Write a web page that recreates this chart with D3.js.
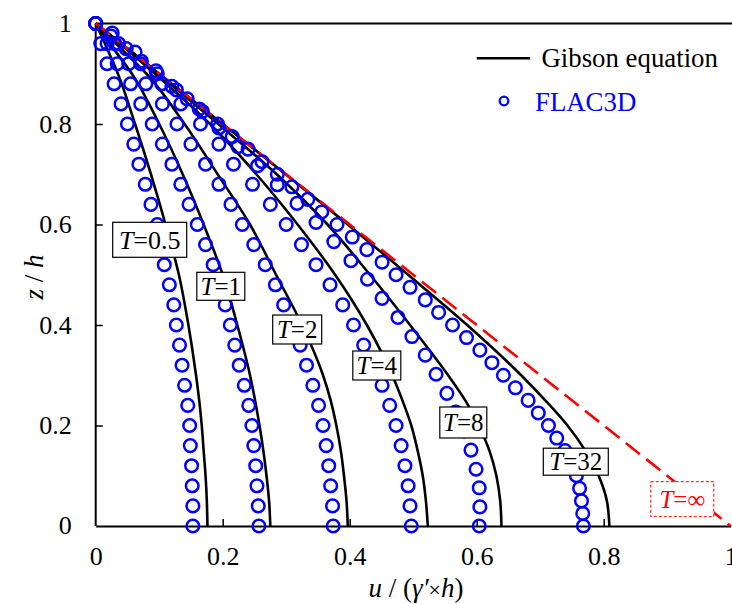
<!DOCTYPE html>
<html>
<head>
<meta charset="utf-8">
<script src="https://cdn.jsdelivr.net/npm/d3@7"></script>
<style>
  html, body { margin: 0; padding: 0; background: #fff; }
  svg { display: block; }
  svg text { font-family: "Liberation Serif", "Times New Roman", serif !important; }
</style>
</head>
<body>
<div id="chart"></div>
<script>
// ---------------- DATA ----------------
const uTickValues = [0, 0.2, 0.4, 0.6, 0.8, 1];
const uTickLabels = ["0", "0.2", "0.4", "0.6", "0.8", "1"];
const zTickValues = [0, 0.2, 0.4, 0.6, 0.8, 1];
const zTickLabels = ["0", "0.2", "0.4", "0.6", "0.8", "1"];

const seriesNames = ["T=0.5", "T=1", "T=2", "T=4", "T=8", "T=32"];

// Gibson equation curves (z/h sample levels, u values per T)
const gibsonZ = [1, 0.95, 0.9, 0.8, 0.7, 0.6, 0.5, 0.4, 0.3, 0.25, 0.2, 0.15, 0.1, 0.05, 0];
const gibsonT05 = [0, 0.018, 0.035, 0.062, 0.087, 0.110, 0.131, 0.146, 0.158, 0.163, 0.167, 0.170, 0.173, 0.175, 0.176];
const gibsonT1  = [0, 0.028, 0.057, 0.100, 0.137, 0.170, 0.200, 0.223, 0.243, 0.251, 0.258, 0.264, 0.269, 0.273, 0.275];
const gibsonT2  = [0, 0.040, 0.080, 0.140, 0.192, 0.243, 0.284, 0.325, 0.358, 0.370, 0.379, 0.386, 0.391, 0.395, 0.397];
const gibsonT4  = [0, 0.047, 0.093, 0.180, 0.253, 0.318, 0.377, 0.427, 0.467, 0.483, 0.497, 0.507, 0.515, 0.520, 0.523];
const gibsonT8  = [0, 0.050, 0.098, 0.193, 0.285, 0.365, 0.432, 0.495, 0.555, 0.582, 0.603, 0.620, 0.631, 0.637, 0.639];
const gibsonT32 = [0, 0.050, 0.100, 0.200, 0.299, 0.397, 0.492, 0.585, 0.670, 0.708, 0.743, 0.771, 0.792, 0.805, 0.809];

// T = infinity line
const infZ = [1, 0];
const infU = [0, 1];

// FLAC3D results
const flacZ04 = [0, 0.04, 0.08, 0.12, 0.16, 0.20, 0.24, 0.28, 0.32, 0.36, 0.40, 0.44, 0.48, 0.52, 0.56, 0.60, 0.64, 0.68, 0.72, 0.76, 0.80, 0.84, 0.88, 0.92, 0.96, 1.0];
const flacT05 = [0.153, 0.153, 0.152, 0.151, 0.149, 0.148, 0.145, 0.140, 0.136, 0.132, 0.127, 0.123, 0.116, 0.108, 0.103, 0.097, 0.087, 0.078, 0.068, 0.060, 0.050, 0.040, 0.029, 0.018, 0.008, 0];
const flacT1  = [0.257, 0.256, 0.254, 0.252, 0.249, 0.246, 0.241, 0.234, 0.226, 0.219, 0.212, 0.204, 0.195, 0.185, 0.173, 0.160, 0.147, 0.134, 0.120, 0.105, 0.089, 0.071, 0.055, 0.034, 0.018, 0];
const flacT2  = [0.374, 0.373, 0.370, 0.367, 0.363, 0.358, 0.351, 0.342, 0.332, 0.322, 0.310, 0.296, 0.283, 0.267, 0.249, 0.231, 0.213, 0.194, 0.173, 0.150, 0.128, 0.105, 0.079, 0.052, 0.030, 0];
const flacT4  = [0.497, 0.495, 0.492, 0.487, 0.481, 0.473, 0.463, 0.451, 0.437, 0.422, 0.406, 0.389, 0.369, 0.347, 0.324, 0.300, 0.275, 0.247, 0.217, 0.194, 0.165, 0.134, 0.104, 0.071, 0.036, 0];
const flacZ8  = [0, 0.038, 0.076, 0.113, 0.151, 0.189, 0.227, 0.264, 0.302, 0.340, 0.377, 0.415, 0.453, 0.491, 0.528, 0.566, 0.604, 0.642, 0.679, 0.717, 0.755, 0.792, 0.830, 0.868, 0.906, 0.943, 0.981, 1.0];
const flacT8  = [0.604, 0.605, 0.604, 0.599, 0.591, 0.580, 0.567, 0.553, 0.536, 0.519, 0.498, 0.476, 0.451, 0.428, 0.402, 0.375, 0.347, 0.317, 0.286, 0.255, 0.224, 0.194, 0.163, 0.127, 0.095, 0.062, 0.026, 0];
const flacZ32 = [0, 0.025, 0.05, 0.075, 0.1, 0.125, 0.15, 0.175, 0.2, 0.225, 0.25, 0.275, 0.3, 0.325, 0.35, 0.375, 0.4, 0.425, 0.45, 0.475, 0.5, 0.525, 0.55, 0.575, 0.6, 0.625, 0.65, 0.675, 0.7, 0.725, 0.75, 0.775, 0.8, 0.825, 0.85, 0.875, 0.9, 0.925, 0.95, 0.975, 1.0];
const flacT32 = [0.768, 0.767, 0.765, 0.762, 0.757, 0.750, 0.739, 0.726, 0.713, 0.697, 0.681, 0.661, 0.642, 0.624, 0.605, 0.584, 0.562, 0.540, 0.519, 0.495, 0.473, 0.451, 0.427, 0.404, 0.380, 0.356, 0.334, 0.309, 0.286, 0.262, 0.240, 0.215, 0.192, 0.168, 0.144, 0.120, 0.097, 0.072, 0.048, 0.024, 0];

// Label texts
const labelValues = ["0.5", "1", "2", "4", "8", "32"];
const infLabelValue = "\u221E";
const legendLabels = ["Gibson equation", "FLAC3D"];

// ---------------- LAYOUT ----------------
const W = 732, H = 604;
const SERIF = "'Liberation Serif', 'Times New Roman', serif";
const layout = {
  x0: 95.7, x1: 730.7, y0: 526, y1: 23.5,
  labelBoxes: [
    { cx: 149.7, cy: 239.8, w: 74, h: 35, fs: 26 },
    { cx: 220.8, cy: 286.3, w: 48, h: 28, fs: 25 },
    { cx: 297.2, cy: 329.5, w: 49, h: 29, fs: 25 },
    { cx: 376.8, cy: 365.5, w: 48, h: 29, fs: 25 },
    { cx: 463.3, cy: 422.5, w: 47, h: 31, fs: 25 },
    { cx: 575.8, cy: 461.7, w: 65, h: 27, fs: 25 }
  ],
  infBox: { cx: 682.3, cy: 499.2, w: 63, h: 35, fs: 25 }
};

const svg = d3.select("#chart").append("svg")
  .attr("width", W).attr("height", H)
  .style("font-family", SERIF);

const x = d3.scaleLinear().domain([0, 1]).range([layout.x0, layout.x1]);
const y = d3.scaleLinear().domain([0, 1]).range([layout.y0, layout.y1]);

// top border line
svg.append("line")
  .attr("x1", x(0)).attr("x2", W).attr("y1", y(1)).attr("y2", y(1))
  .attr("stroke", "#000").attr("stroke-width", 2);

// axes
const xAxis = d3.axisBottom(x).tickValues(uTickValues)
  .tickFormat((d, i) => uTickLabels[i]).tickSizeInner(-7).tickSizeOuter(0).tickPadding(21);
const yAxis = d3.axisLeft(y).tickValues(zTickValues.filter(v => v > 0 && v < 1))
  .tickFormat(d => zTickLabels[zTickValues.indexOf(d)]).tickSizeInner(-7).tickSizeOuter(0).tickPadding(24);

const gx = svg.append("g").attr("transform", `translate(0,${y(0)})`).call(xAxis);
const gy = svg.append("g").attr("transform", `translate(${x(0)},0)`).call(yAxis);
[gx, gy].forEach(g => {
  g.attr("font-family", null).attr("font-size", null).style("font-family", SERIF);
  g.select(".domain").attr("stroke", "#000").attr("stroke-width", 2);
  g.selectAll(".tick line").attr("stroke", "#000").attr("stroke-width", 1.5);
  g.selectAll(".tick text").style("font-family", SERIF).style("font-size", "26px")
    .attr("fill", "#000");
});
gx.selectAll(".tick line").filter(d => d === 0 || d === 1).remove();
gy.selectAll(".endlabel").data([0, 1]).enter().append("text")
  .attr("x", -24).attr("y", d => y(d)).attr("dy", "0.32em")
  .attr("text-anchor", "end").style("font-size", "26px").attr("fill", "#000")
  .style("font-family", SERIF)
  .text(d => zTickLabels[zTickValues.indexOf(d)]);
gy.select(".domain").attr("d", `M0,${y(0)}V${y(1)}`);

// Gibson curves
const gibsonSeries = [gibsonT05, gibsonT1, gibsonT2, gibsonT4, gibsonT8, gibsonT32];
const line = d3.line().x(d => x(d[0])).y(d => y(d[1])).curve(d3.curveMonotoneY);
svg.append("g").selectAll("path").data(gibsonSeries).enter().append("path")
  .attr("d", s => line(s.map((u, i) => [u, gibsonZ[i]])))
  .attr("fill", "none").attr("stroke", "#000").attr("stroke-width", 2.6);

// T = infinity line
svg.append("path")
  .attr("d", d3.line().x(d => x(d[0])).y(d => y(d[1]))(infU.map((u, i) => [u, infZ[i]])))
  .attr("fill", "none").attr("stroke", "#ff0000").attr("stroke-width", 2.6)
  .attr("stroke-dasharray", "18,8");

// FLAC3D circles
const flacSeries = [
  { u: flacT05, z: flacZ04 }, { u: flacT1, z: flacZ04 }, { u: flacT2, z: flacZ04 },
  { u: flacT4, z: flacZ04 }, { u: flacT8, z: flacZ8 }, { u: flacT32, z: flacZ32 }
];
const gc = svg.append("g");
flacSeries.forEach(s => {
  gc.append("g").selectAll("circle").data(s.u.map((u, i) => [u, s.z[i]])).enter()
    .append("circle")
    .attr("cx", d => x(d[0])).attr("cy", d => y(d[1])).attr("r", 6.3)
    .attr("fill", "none").attr("stroke", "#0000ff").attr("stroke-width", 2.5);
});

// T labels
const gl = svg.append("g");
function addLabel(b, v, color, boxStroke, dash) {
  gl.append("rect")
    .attr("x", b.cx - b.w / 2).attr("y", b.cy - b.h / 2).attr("width", b.w).attr("height", b.h)
    .attr("fill", "#fff").attr("stroke", boxStroke).attr("stroke-width", dash ? 1 : 1.2)
    .attr("stroke-dasharray", dash);
  const t = gl.append("text").attr("x", b.cx).attr("y", b.cy).attr("dy", "0.34em")
    .attr("text-anchor", "middle").style("font-size", b.fs + "px").attr("fill", color)
    .style("font-family", SERIF);
  t.append("tspan").attr("font-style", "italic").text("T");
  t.append("tspan").text("=" + v);
}
labelValues.forEach((v, i) => addLabel(layout.labelBoxes[i], v, "#000", "#000", null));
addLabel(layout.infBox, infLabelValue, "#ff0000", "#ff0000", "3,2");

// Legend
const lg = svg.append("g");
lg.append("line").attr("x1", 476.7).attr("x2", 530).attr("y1", 58.3).attr("y2", 58.3)
  .attr("stroke", "#000").attr("stroke-width", 2.6);
lg.append("text").attr("x", 541.5).attr("y", 67).style("font-size", "26.8px").attr("fill", "#000")
  .style("font-family", SERIF).text(legendLabels[0]);
lg.append("circle").attr("cx", 504).attr("cy", 101).attr("r", 4.3)
  .attr("fill", "none").attr("stroke", "#0000ff").attr("stroke-width", 2.3);
lg.append("text").attr("x", 535).attr("y", 111).style("font-size", "26.8px").attr("fill", "#0000ff")
  .style("font-family", SERIF).text(legendLabels[1]);

// Axis titles
const xt = svg.append("text").attr("x", 416).attr("y", 597).attr("text-anchor", "middle")
  .style("font-size", "27px").attr("fill", "#000").style("font-family", SERIF);
xt.append("tspan").attr("font-style", "italic").text("u");
xt.append("tspan").text(" / (");
xt.append("tspan").attr("font-style", "italic").text("\u03B3\u2032");
xt.append("tspan").style("font-size", "22px").text("\u00D7");
xt.append("tspan").attr("font-style", "italic").text("h");
xt.append("tspan").text(")");

const yt = svg.append("text").attr("transform", "translate(43,277) rotate(-90)")
  .attr("text-anchor", "middle").style("font-size", "27px").attr("fill", "#000")
  .style("font-family", SERIF);
yt.append("tspan").attr("font-style", "italic").text("z");
yt.append("tspan").text(" / ");
yt.append("tspan").attr("font-style", "italic").text("h");
</script>
</body>
</html>
